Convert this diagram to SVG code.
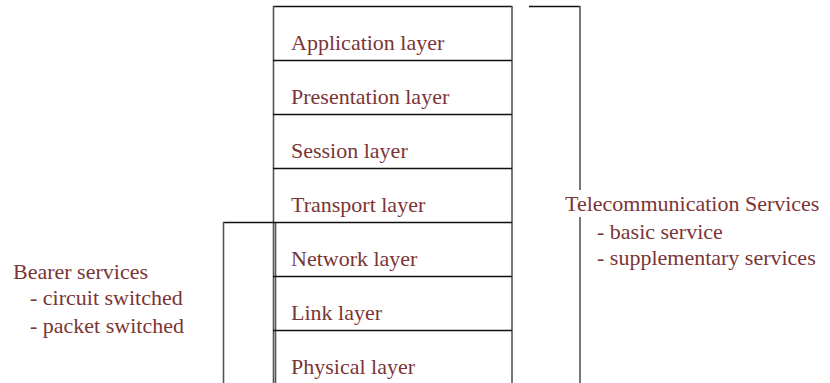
<svg xmlns="http://www.w3.org/2000/svg" width="830" height="383" viewBox="0 0 830 383">
<style>
.t{font-size:22px;fill:#7b3535}
.h{stroke:#111;stroke-width:1.4;fill:none}
.v{stroke:#555;stroke-width:1.6;fill:none}
</style>
<rect width="830" height="383" fill="#fff"/>
<g id="stack">
<line class="h" x1="273" y1="6.5" x2="512" y2="6.5"/>
<line class="v" x1="273.5" y1="6" x2="273.5" y2="383"/>
<line class="v" x1="275.5" y1="222" x2="275.5" y2="383"/>
<line class="v" x1="512" y1="6" x2="512" y2="383"/>
<line class="h" x1="273" y1="60.5" x2="512" y2="60.5"/>
<line class="h" x1="273" y1="114.5" x2="512" y2="114.5"/>
<line class="h" x1="273" y1="168.5" x2="512" y2="168.5"/>
<line class="h" x1="273" y1="222.5" x2="512" y2="222.5"/>
<line class="h" x1="273" y1="276.5" x2="512" y2="276.5"/>
<line class="h" x1="273" y1="330.5" x2="512" y2="330.5"/>
</g>
<g font-family="Liberation Serif, DejaVu Serif, serif">
<g id="application"><text class="t" x="291" y="50">Application layer</text></g>
<g id="presentation"><text class="t" x="291" y="104">Presentation layer</text></g>
<g id="session"><text class="t" x="291" y="158">Session layer</text></g>
<g id="transport"><text class="t" x="291" y="212">Transport layer</text></g>
<g id="network"><text class="t" x="291" y="266">Network layer</text></g>
<g id="link"><text class="t" x="291" y="320">Link layer</text></g>
<g id="physical"><text class="t" x="291" y="374">Physical layer</text></g>
</g>
<g id="connectors">
<polyline class="h" points="529,6.5 580,6.5"/>
<line class="v" x1="580" y1="6" x2="580" y2="383"/>
<line class="h" x1="223" y1="222.5" x2="274" y2="222.5"/>
<line class="v" x1="223.5" y1="222" x2="223.5" y2="383"/>
</g>
<g id="telecom" font-family="Liberation Serif, DejaVu Serif, serif">
<rect x="563" y="190" width="266" height="27" fill="#fff"/>
<text class="t" x="565" y="211">Telecommunication Services</text>
<text class="t" x="597" y="239">- basic service</text>
<text class="t" x="597" y="265">- supplementary services</text>
</g>
<g id="bearer" font-family="Liberation Serif, DejaVu Serif, serif">
<text class="t" x="13" y="279">Bearer services</text>
<text class="t" x="30" y="305">- circuit switched</text>
<text class="t" x="30" y="333">- packet switched</text>
</g>
</svg>
